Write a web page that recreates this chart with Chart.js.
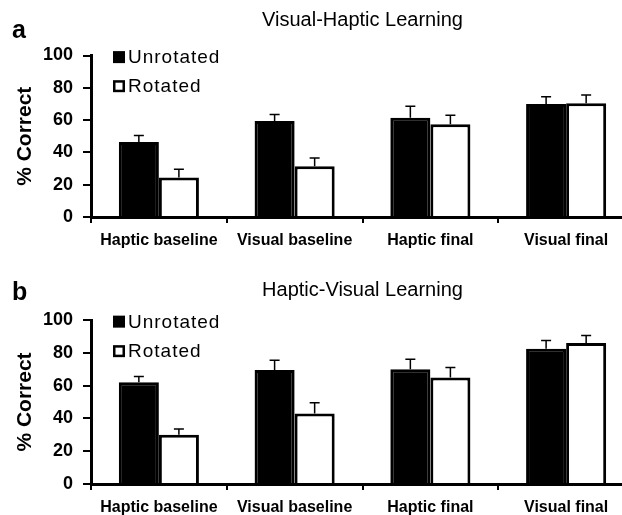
<!DOCTYPE html>
<html>
<head>
<meta charset="utf-8">
<script src="https://cdn.jsdelivr.net/npm/chart.js@4.4.1/dist/chart.umd.min.js"></script>
<style>
  html, body { margin: 0; padding: 0; background: #fff; }
  #page { position: relative; width: 622px; height: 515px; overflow: hidden; }
  .panel { position: absolute; left: 0; }
</style>
</head>
<body>
<div id="page">
  <canvas id="chartA" class="panel" style="top:0px" width="634" height="260"></canvas>
  <canvas id="chartB" class="panel" style="top:262px" width="634" height="253"></canvas>
</div>
<script>
const categories = ['Haptic baseline', 'Visual baseline', 'Haptic final', 'Visual final'];
const seriesNames = ['Unrotated', 'Rotated'];
const yTicks = [0, 20, 40, 60, 80, 100];

// a: Visual-Haptic Learning
const vhUnrotated = [46.5, 59.5, 61.5, 70];
const vhUnrotatedErr = [4, 4, 7, 4.5];
const vhRotated = [24.5, 31.5, 57.5, 70.5];
const vhRotatedErr = [5, 5, 5.5, 5];

// b: Haptic-Visual Learning
const hvUnrotated = [62, 69.5, 70, 82.5];
const hvUnrotatedErr = [3.5, 6, 6, 5];
const hvRotated = [30, 43, 65, 86];
const hvRotatedErr = [3.5, 6.5, 6, 4.5];

const FONT = "'Liberation Sans', Arial, sans-serif";

// error bars, only the upper half
const errorBars = {
  id: 'errorBars',
  afterDatasetsDraw(chart) {
    const ctx = chart.ctx;
    const y = chart.scales.y;
    ctx.save();
    ctx.strokeStyle = '#000';
    ctx.lineWidth = 1.5;
    chart.data.datasets.forEach((ds, i) => {
      const meta = chart.getDatasetMeta(i);
      meta.data.forEach((bar, j) => {
        const top = y.getPixelForValue(ds.data[j]);
        const tip = y.getPixelForValue(ds.data[j] + ds.errors[j]);
        ctx.beginPath();
        ctx.moveTo(bar.x, top);
        ctx.lineTo(bar.x, tip);
        ctx.moveTo(bar.x - 5, tip);
        ctx.lineTo(bar.x + 5, tip);
        ctx.stroke();
      });
    });
    ctx.restore();
  }
};

// legend inside the plot + panel letter
const insideLegend = {
  id: 'insideLegend',
  afterDraw(chart, args, opts) {
    const ctx = chart.ctx;
    const y = chart.scales.y;
    ctx.save();
    ctx.font = 'bold 25px ' + FONT;
    ctx.fillStyle = '#000';
    ctx.textBaseline = 'alphabetic';
    ctx.fillText(opts.letter, 12, 38);

    ctx.font = '19px ' + FONT;
    if ('letterSpacing' in ctx) ctx.letterSpacing = '1px';
    ctx.textBaseline = 'middle';
    chart.data.datasets.forEach((ds, i) => {
      const cy = y.getPixelForValue(opts.rows[i]);
      if (ds.backgroundColor === '#000') {
        ctx.fillStyle = '#000';
        ctx.fillRect(113, cy - 6, 12, 12);
      } else {
        ctx.fillStyle = '#fff';
        ctx.fillRect(113, cy - 6, 12, 12);
        ctx.strokeStyle = '#000';
        ctx.lineWidth = 2.5;
        ctx.strokeRect(114.25, cy - 4.75, 9.5, 9.5);
      }
      ctx.fillStyle = '#000';
      ctx.fillText(ds.label, 128, cy + 1);
    });
    ctx.restore();
  }
};

function makePanel(id, title, unrot, unrotErr, rot, rotErr, opts) {
  return new Chart(document.getElementById(id), {
    type: 'bar',
    data: {
      labels: categories,
      datasets: [
        { label: seriesNames[0], data: unrot, errors: unrotErr,
          backgroundColor: '#000', borderColor: '#000', borderWidth: 3 },
        { label: seriesNames[1], data: rot, errors: rotErr,
          backgroundColor: '#fff', borderColor: '#000', borderWidth: 3 }
      ]
    },
    options: {
      responsive: false,
      animation: false,
      devicePixelRatio: 1,
      layout: { padding: 0 },
      datasets: { bar: { categoryPercentage: 0.59, barPercentage: 1.0 } },
      scales: {
        x: {
          afterFit: s => { s.height = opts.xHeight; },
          grid: { offset: true, drawOnChartArea: false, drawTicks: true, tickLength: 6, color: '#000', lineWidth: 2 },
          border: { display: true, color: '#000', width: 3 },
          ticks: { color: '#000', padding: 8, font: { family: FONT, size: 16, weight: 'bold' } }
        },
        y: {
          min: 0, max: 100,
          afterFit: s => { s.width = 91; },
          afterBuildTicks: s => { s.ticks = yTicks.map(v => ({ value: v })); },
          grid: { drawOnChartArea: false, drawTicks: true, tickLength: 8, color: '#000', lineWidth: 2 },
          border: { display: true, color: '#000', width: 3 },
          ticks: { color: '#000', padding: 10, font: { family: FONT, size: 18, weight: 'bold' } },
          title: { display: true, text: '% Correct', color: '#000', padding: { top: 13, bottom: 0 },
                   font: { family: FONT, size: 21, weight: 'bold' } }
        }
      },
      plugins: {
        legend: { display: false },
        tooltip: { enabled: false },
        title: {
          display: true, text: title, fullSize: false, color: '#000',
          font: { family: FONT, size: 20, weight: 'normal' },
          padding: opts.titlePad
        },
        insideLegend: { letter: opts.letter, rows: [99, 81] }
      }
    },
    plugins: [errorBars, insideLegend]
  });
}

makePanel('chartA', 'Visual-Haptic Learning', vhUnrotated, vhUnrotatedErr, vhRotated, vhRotatedErr,
  { letter: 'a', xHeight: 43, titlePad: { top: 8, bottom: 23.5 } });
makePanel('chartB', 'Haptic-Visual Learning', hvUnrotated, hvUnrotatedErr, hvRotated, hvRotatedErr,
  { letter: 'b', xHeight: 31, titlePad: { top: 16, bottom: 18 } });
</script>
</body>
</html>
